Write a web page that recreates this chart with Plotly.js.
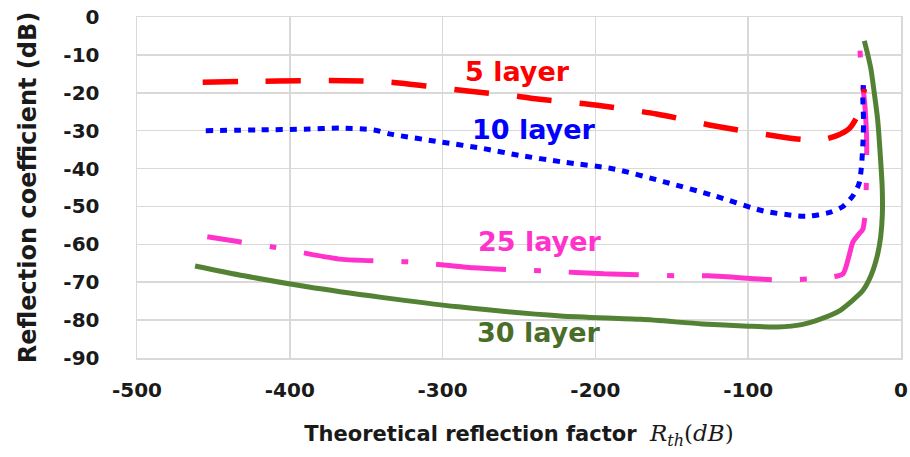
<!DOCTYPE html>
<html>
<head>
<meta charset="utf-8">
<script src="https://cdn.plot.ly/plotly-3.0.1.min.js"></script>
<style>
  html, body { margin: 0; padding: 0; background: #ffffff; }
  #chart { width: 910px; height: 457px; }
</style>
</head>
<body>
<div id="chart"></div>
<script>
// Reflection coefficient vs theoretical reflection factor, one curve per layer count
const layer5X  = [-457, -426, -390, -364, -334, -311, -282, -251, -241, -200, -160, -120, -79, -65, -52, -42, -34, -29, -25.5, -24];
const layer5Y  = [-17.2, -17.0, -16.8, -16.8, -17.2, -18.2, -19.6, -20.9, -21.5, -23.2, -25.6, -28.9, -31.6, -32.3, -32.4, -31.3, -29.5, -26.5, -23, -19];

const layer10X = [-455, -420, -390, -367, -345, -334, -301, -275, -250, -221, -188, -155, -122, -90, -67, -59, -46, -38, -31.5, -27.5, -26, -25, -24.5, -25, -24.5];
const layer10Y = [-30, -29.8, -29.6, -29.3, -29.8, -30.9, -33, -34.6, -36.5, -38.3, -40.1, -43.5, -47.2, -51.2, -52.5, -52.5, -51.5, -50, -47.2, -44, -40, -34, -27.7, -21, -18];

const layer25X = [-454, -432, -411, -367, -323, -280, -236, -190, -147, -126, -80, -59, -45, -38, -34, -31.5, -28, -25, -23.5, -23, -22.5, -22.5, -23.5, -25, -26.5, -27];
const layer25Y = [-58, -59.4, -60.7, -63.9, -64.6, -66.2, -67, -67.8, -68.3, -68.3, -69.4, -69.1, -68.6, -67.8, -63, -59.4, -57.5, -56, -52, -48, -40, -32, -24, -18, -11, -7.5];

const layer30X = [-462, -430, -388.6, -340, -289.6, -222.8, -170, -130, -100, -80.6, -65, -52.4, -40, -32.8, -25, -19.7, -15.5, -13.3, -12.2, -12.3, -13.3, -15.3, -17.5, -19.7, -22, -24];
const layer30Y = [-65.7, -68.3, -71.2, -74, -76.5, -78.9, -79.8, -81, -81.6, -81.8, -81.2, -79.7, -77.5, -75.2, -72.2, -68.3, -63, -58, -52, -45, -38, -27, -20, -13.7, -9.5, -6.3];

const xTicks = [-500, -400, -300, -200, -100, 0];
const yTicks = [0, -10, -20, -30, -40, -50, -60, -70, -80, -90];

const seriesLabels = ['5 layer', '10 layer', '25 layer', '30 layer'];
const labelX = [-251, -240, -236, -237];
const labelY = [-14.5, -29.8, -59.2, -83.4];

const RED = '#FF0000', BLUE = '#0000FF', PINK = '#FF33CC', GREEN = '#548235';
const labelColors = [RED, BLUE, PINK, '#4A6E2A'];

const lineShape = { shape: 'spline', smoothing: 0.7 };

const traces = [
  { x: layer25X, y: layer25Y, name: '25 layer', mode: 'lines',
    line: Object.assign({ color: PINK, width: 5, dash: '35px,28px,7px,28px,35px,0px' }, lineShape) },
  { x: layer10X, y: layer10Y, name: '10 layer', mode: 'lines',
    line: Object.assign({ color: BLUE, width: 5, dash: '7px,7px' }, lineShape) },
  { x: layer5X, y: layer5Y, name: '5 layer', mode: 'lines',
    line: Object.assign({ color: RED, width: 5.5, dash: '35px,28px' }, lineShape) },
  { x: layer30X, y: layer30Y, name: '30 layer', mode: 'lines',
    line: Object.assign({ color: GREEN, width: 5 }, lineShape) }
];

const tickFont = { family: 'DejaVu Sans', size: 20, color: '#1a1a1a', weight: 'bold' };

const annotations = seriesLabels.map((t, i) => ({
  x: labelX[i], y: labelY[i], xref: 'x', yref: 'y',
  text: '<b>' + t + '</b>', showarrow: false,
  font: { family: 'DejaVu Sans', size: 27, color: labelColors[i] },
  xanchor: 'center', yanchor: 'middle'
}));

const layout = {
  width: 910, height: 457,
  margin: { l: 137, r: 9, t: 17, b: 99 },
  paper_bgcolor: '#ffffff', plot_bgcolor: '#ffffff',
  showlegend: false,
  xaxis: {
    range: [-500, 0], tickvals: xTicks, ticktext: xTicks.map(String),
    showgrid: true, gridcolor: '#d9d9d9', gridwidth: 1.5,
    zeroline: false, showline: true, mirror: true, linecolor: '#d9d9d9', linewidth: 1.5,
    ticks: '', ticklabelstandoff: 13, tickfont: tickFont,
    title: {
      text: '<b>Theoretical reflection factor</b>  <span style="font-family:\'DejaVu Serif\';font-size:23px"><i>R</i><sub><i>th</i></sub>(<i>dB</i>)</span>',
      font: { family: 'DejaVu Sans', size: 21, color: '#1a1a1a' },
      standoff: 26
    }
  },
  yaxis: {
    range: [-90, 0], tickvals: yTicks, ticktext: yTicks.map(String),
    showgrid: true, gridcolor: '#d9d9d9', gridwidth: 1.5,
    zeroline: false, showline: true, mirror: true, linecolor: '#d9d9d9', linewidth: 1.5,
    ticks: '', ticklabelstandoff: 32, tickfont: tickFont,
    title: {
      text: '<b>Reflection coefficient (dB)</b>',
      font: { family: 'DejaVu Sans', size: 24, color: '#1a1a1a' },
      standoff: 20
    }
  },
  annotations: annotations
};

Plotly.newPlot('chart', traces, layout, { displayModeBar: false, staticPlot: true });
</script>
</body>
</html>
